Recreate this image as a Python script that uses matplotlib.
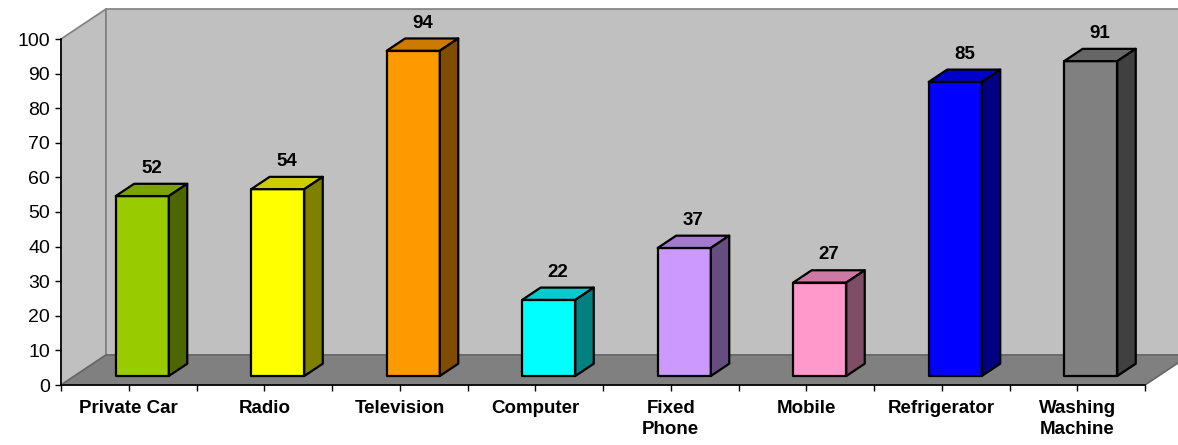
import numpy as np
import matplotlib.pyplot as plt
from matplotlib.patches import Polygon
from matplotlib.colors import to_rgb

plt.rcParams['font.family'] = ['Liberation Sans', 'DejaVu Sans']

# Данные
categories = ['Private Car', 'Radio', 'Television', 'Computer', 'Fixed\nPhone',
              'Mobile', 'Refrigerator', 'Washing\nMachine']
values = [52, 54, 94, 22, 37, 27, 85, 91]
colors = ['#99CC00', '#FFFF00', '#FF9900', '#00FFFF', '#CC99FF',
          '#FF99CC', '#0000FF', '#808080']

# Параметры "3D" проекции (в единицах осей)
DX = 0.332      # сдвиг по x на всю глубину (в категориях)
DY = 8.67       # сдвиг по y на всю глубину (в единицах значений)
d0, d1 = 0.3, 0.71   # глубина передней и задней грани столбцов
hw = 0.196      # половина ширины столбца
n = len(categories)
ymax = 100


def proj(x, y, d):
    return (x + d * DX, y + d * DY)


fig = plt.figure(figsize=(11.78, 4.45), dpi=100)
ax = fig.add_axes([61 / 1178, 60 / 445, 1084 / 1178, 346 / 445])
ax.set_xlim(0, n)
ax.set_ylim(0, ymax)
ax.patch.set_visible(False)

# Стенки и пол
wall = '#C0C0C0'
side_wall = [proj(0, 0, 0), proj(0, 0, 1), proj(0, ymax, 1), proj(0, ymax, 0)]
back_wall = [proj(0, 0, 1), proj(n, 0, 1), proj(n, ymax, 1), proj(0, ymax, 1)]
floor = [proj(0, 0, 0), proj(n, 0, 0), proj(n, 0, 1), proj(0, 0, 1)]
ax.add_patch(Polygon(side_wall, closed=True, facecolor=wall, edgecolor='#808080',
                     lw=1.2, clip_on=False, zorder=0.5))
ax.add_patch(Polygon(back_wall, closed=True, facecolor=wall, edgecolor='#808080',
                     lw=1.2, clip_on=False, zorder=0.5))
ax.add_patch(Polygon(floor, closed=True, facecolor='#808080', edgecolor='#666666',
                     lw=1.2, clip_on=False, zorder=0.6))

# Столбцы
for i, (v, c) in enumerate(zip(values, colors)):
    rgb = np.array(to_rgb(c))
    xc = i + 0.5
    x0, x1 = xc - hw, xc + hw
    front = [proj(x0, 0, d0), proj(x1, 0, d0), proj(x1, v, d0), proj(x0, v, d0)]
    top = [proj(x0, v, d0), proj(x1, v, d0), proj(x1, v, d1), proj(x0, v, d1)]
    side = [proj(x1, 0, d0), proj(x1, 0, d1), proj(x1, v, d1), proj(x1, v, d0)]
    for poly, k in [(front, 1.0), (top, 0.8), (side, 0.5)]:
        ax.add_patch(Polygon(poly, closed=True, facecolor=rgb * k, edgecolor='black',
                             lw=1.6, joinstyle='round', clip_on=False, zorder=2))
    lx, ly = proj(xc, v, (d0 + d1) / 2)
    ax.annotate(str(v), xy=(lx, v + d1 * DY), xytext=(0, 5), textcoords='offset points',
                ha='center', va='bottom', fontsize=13.5, fontweight='bold',
                annotation_clip=False)

# Оси
for s in ['top', 'right']:
    ax.spines[s].set_visible(False)
for s in ['left', 'bottom']:
    ax.spines[s].set_color('black')
    ax.spines[s].set_linewidth(1.2)
    ax.spines[s].set_zorder(1)

ax.set_yticks(np.arange(0, ymax + 1, 10))
ax.tick_params(axis='y', direction='out', length=4.5, width=1, pad=3.5, labelsize=14)
ax.set_xticks(np.arange(n) + 0.5)
ax.set_xticklabels(categories, fontweight='bold', fontsize=13.5, linespacing=1.35)
ax.set_xticks(np.arange(n + 1), minor=True)
ax.tick_params(axis='x', which='both', direction='out', length=4.5, width=1, pad=6)

fig.savefig('out.png', dpi=100)
